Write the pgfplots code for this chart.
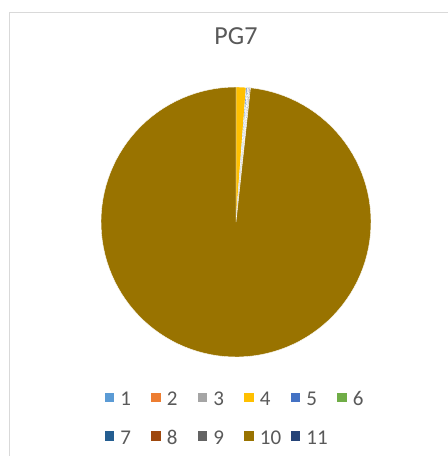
\documentclass[border=0pt]{standalone}
\usepackage{pgfplots}
\pgfplotsset{compat=1.18}
\usepackage{pgfplotstable}
\usepackage{fontspec}
\setmainfont{Carlito}
\definecolor{c1}{HTML}{5B9BD5}
\definecolor{c2}{HTML}{ED7D31}
\definecolor{c3}{HTML}{A5A5A5}
\definecolor{c4}{HTML}{FFC000}
\definecolor{c5}{HTML}{4472C4}
\definecolor{c6}{HTML}{70AD47}
\definecolor{c7}{HTML}{255E91}
\definecolor{c8}{HTML}{9E480E}
\definecolor{c9}{HTML}{636363}
\definecolor{c10}{HTML}{997300}
\definecolor{c11}{HTML}{264478}
\definecolor{txt}{HTML}{595959}
\definecolor{framecol}{HTML}{D9D9D9}

% slice values (percent of the whole)
\pgfplotstableread{
slice value
1 0
2 0
3 0
4 1.20
5 0.14
6 0.08
7 0.10
8 0.07
9 0.12
10 98.29
11 0
}\piedata

% cumulative start/end angles, clockwise from the top
\def\piecum{0}
\pgfplotstableforeachcolumnelement{value}\of\piedata\as\v{%
  \pgfmathsetmacro\pa{90-3.6*\piecum}%
  \pgfmathsetmacro\pc{\piecum+\v}%
  \pgfmathsetmacro\pb{90-3.6*\pc}%
  \expandafter\xdef\csname pieA\pgfplotstablerow\endcsname{\pa}%
  \expandafter\xdef\csname pieB\pgfplotstablerow\endcsname{\pb}%
  \xdef\piecum{\pc}%
}
\newcommand\pieslice[2]{%
  \edef\tmp{\noexpand\addplot[fill=#2, draw=white, line width=0.4bp,
    domain=\csname pieB#1\endcsname:\csname pieA#1\endcsname, samples=120]
    ({cos(x)},{sin(x)}) -- (axis cs:0,0) -- cycle;}\tmp}
\newcommand\lentry[1]{\makebox[37bp][l]{\hspace{6bp}#1}}

\begin{document}
\begin{tikzpicture}
\path[use as bounding box] (0,0) rectangle (448bp,-456bp);
\draw[framecol, line width=1.5bp] (9.5bp,-456bp) -- (9.5bp,-12.5bp) -- (448bp,-12.5bp);
\begin{axis}[
  at={(236bp,-222bp)}, anchor=center,
  scale only axis, width=270bp, height=270bp,
  xmin=-1, xmax=1, ymin=-1, ymax=1,
  hide axis, clip=false,
  title={PG7},
  title style={at={(0.5,1.137)}, anchor=base, font=\fontsize{26bp}{30bp}\selectfont, text=txt, inner sep=0pt},
  legend columns=6,
  legend style={at={(0.0148,-0.1285)}, anchor=north west, draw=none, fill=none,
    inner sep=0pt, outer sep=0pt, column sep=0pt, row sep=23bp,
    nodes={inner sep=0pt, outer sep=0pt},
    font=\fontsize{21bp}{24bp}\selectfont, text=txt},
  legend image code/.code={\fill[#1,draw=none] (0bp,-2.7bp) rectangle (9.5bp,6.8bp);},
  legend cell align=left,
  legend entries={\lentry{1},\lentry{2},\lentry{3},\lentry{4},\lentry{5},\lentry{6},\lentry{7},\lentry{8},\lentry{9},\lentry{10},\lentry{11}},
]
\addlegendimage{fill=c1}
\addlegendimage{fill=c2}
\addlegendimage{fill=c3}
\pieslice{3}{c4}
\pieslice{4}{c5}
\pieslice{5}{c6}
\pieslice{6}{c7}
\pieslice{7}{c8}
\pieslice{8}{c9}
\pieslice{9}{c10}
\addlegendimage{fill=c11}
\end{axis}
\end{tikzpicture}
\end{document}
